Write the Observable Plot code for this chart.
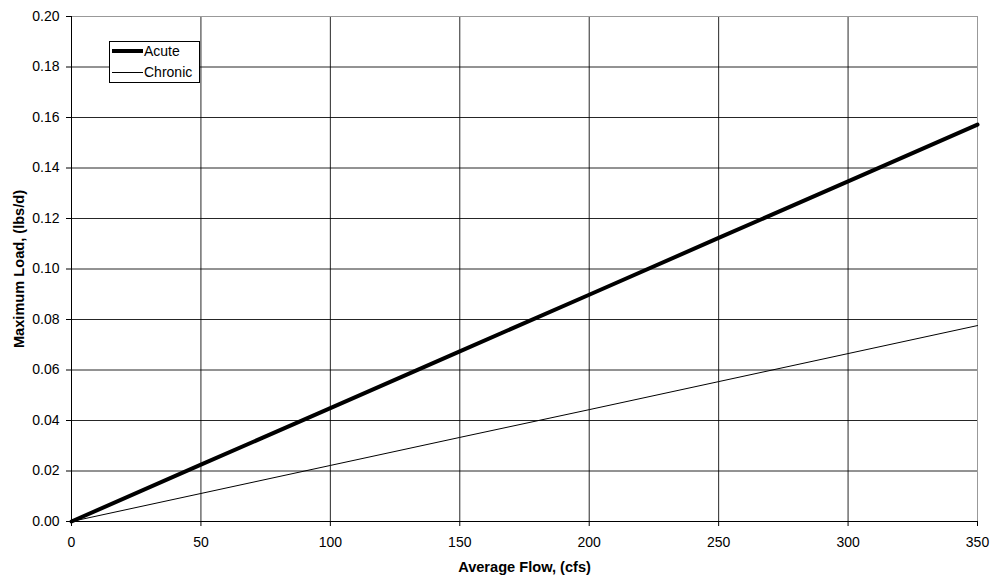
<!DOCTYPE html>
<html>
<head>
<meta charset="utf-8">
<script src="https://cdn.jsdelivr.net/npm/d3@7"></script>
<script src="https://cdn.jsdelivr.net/npm/@observablehq/plot@0.6"></script>
<style>
  html, body { margin: 0; padding: 0; background: #fff; }
  #wrap { position: relative; width: 992px; height: 579px; font-family: "Liberation Sans", Arial, sans-serif; }
  #legend { position: absolute; left: 109px; top: 41px; width: 89px; height: 40px; border: 1px solid #000; background: #fff; font-size: 14px; }
  #legend .row { position: absolute; left: 2px; height: 18px; display: flex; align-items: center; line-height: 18px; }
  #legend .sw { display: inline-block; width: 31px; background: #000; margin-right: 1px; }
</style>
</head>
<body>
<div id="wrap">
  <div id="chart"></div>
  <div id="legend">
    <div class="row" style="top:0px"><span class="sw" style="height:4px"></span><span>Acute</span></div>
    <div class="row" style="top:21px"><span class="sw" style="height:1px"></span><span>Chronic</span></div>
  </div>
</div>
<script>
const flow = [0, 50, 100, 150, 200, 250, 300, 350];
const acute = [0, 0.0225, 0.0449, 0.0674, 0.0898, 0.1123, 0.1347, 0.1572];
const chronic = [0, 0.0111, 0.0222, 0.0333, 0.0443, 0.0554, 0.0665, 0.0776];
const xTicks = [0, 50, 100, 150, 200, 250, 300, 350];
const yTicks = [0, 0.02, 0.04, 0.06, 0.08, 0.10, 0.12, 0.14, 0.16, 0.18, 0.20];

const acuteData = flow.map((f, i) => ({flow: f, load: acute[i]}));
const chronicData = flow.map((f, i) => ({flow: f, load: chronic[i]}));

const chart = Plot.plot({
  width: 992,
  height: 579,
  marginLeft: 71,
  marginRight: 15,
  marginTop: 16,
  marginBottom: 58,
  style: {fontFamily: "Liberation Sans, Arial, sans-serif", fontSize: "14px", color: "#000", background: "#fff"},
  x: {domain: [0, 350]},
  y: {domain: [0, 0.2]},
  marks: [
    Plot.gridX(xTicks.filter(d => d > 0 && d < 350), {stroke: "#000", strokeOpacity: 0.85}),
    Plot.gridY(yTicks.filter(d => d > 0 && d < 0.2), {stroke: "#000", strokeOpacity: 0.85}),
    Plot.ruleY([0.2], {stroke: "#999"}),
    Plot.ruleX([350], {stroke: "#999"}),
    Plot.ruleX([0], {stroke: "#000"}),
    Plot.ruleY([0], {stroke: "#000"}),
    Plot.axisX({ticks: xTicks, tickSize: 5, tickPadding: 11, tickFormat: d => String(d), label: "Average Flow, (cfs)", labelAnchor: "center", labelArrow: "none", labelOffset: 50, fontSize: 14}),
    Plot.axisY({ticks: yTicks, tickSize: 5, tickPadding: 7, tickFormat: d => d.toFixed(2), label: "Maximum Load, (lbs/d)", labelAnchor: "center", labelArrow: "none", labelOffset: 58, fontSize: 14}),
    Plot.line(chronicData, {x: "flow", y: "load", stroke: "#000", strokeWidth: 1}),
    Plot.line(acuteData, {x: "flow", y: "load", stroke: "#000", strokeWidth: 4})
  ]
});
document.getElementById("chart").appendChild(chart);
chart.querySelectorAll("g[aria-label='x-axis label'] text, g[aria-label='y-axis label'] text").forEach(t => { t.style.fontWeight = "bold"; t.style.fontSize = "14.6px"; });
</script>
</body>
</html>
